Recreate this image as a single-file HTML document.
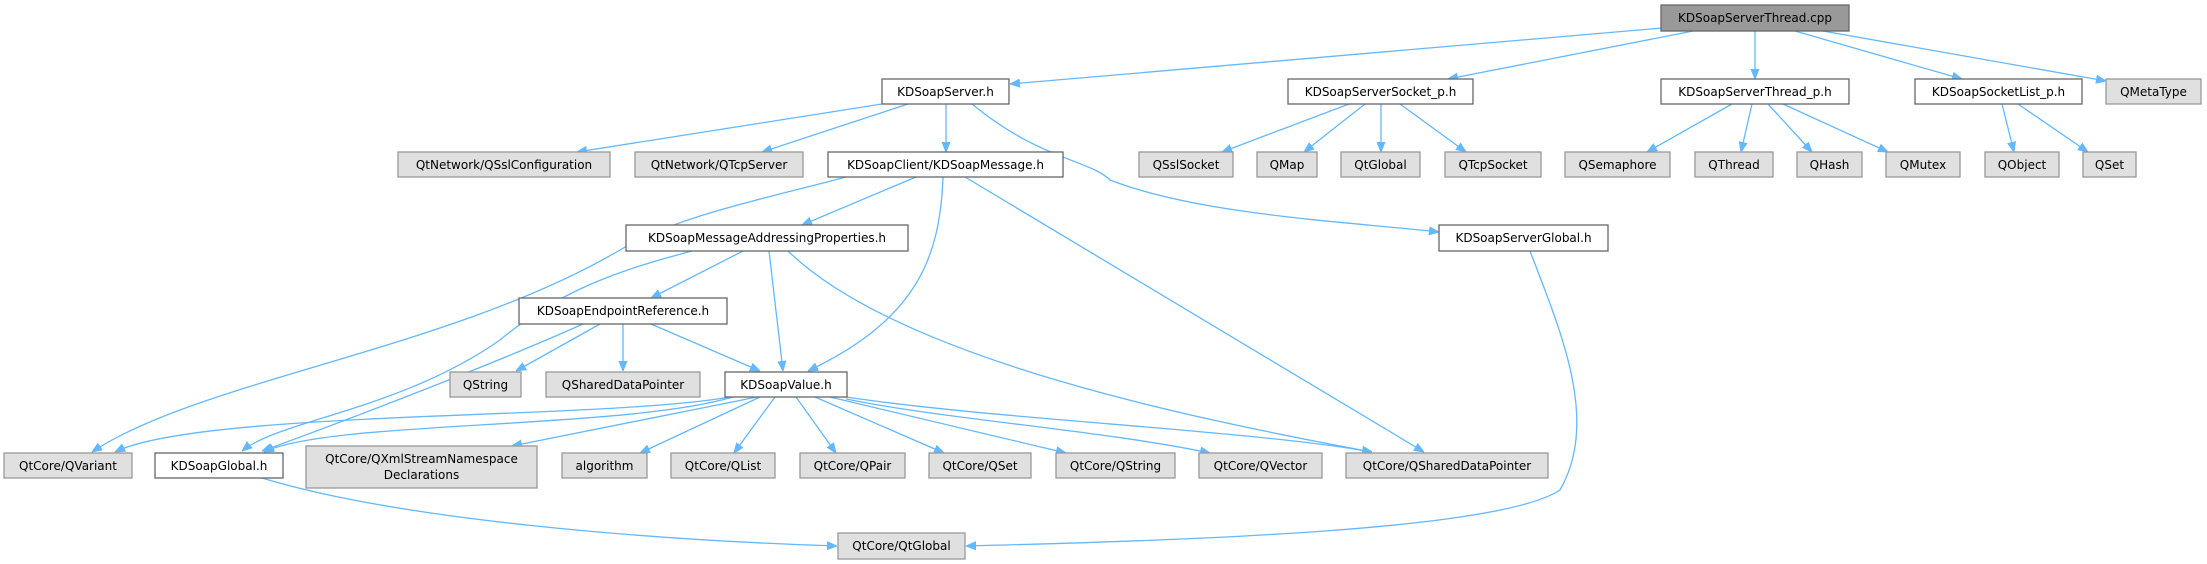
<!DOCTYPE html>
<html><head><meta charset="utf-8"><style>
html,body{margin:0;padding:0;background:#fff;}
svg{display:block;}
text{font-family:"DejaVu Sans","Liberation Sans",sans-serif;font-size:12px;fill:#000;}
.e{fill:none;stroke:#63b8ff;stroke-width:1.3;}
.w{fill:#fff;stroke:#666;stroke-width:1.3;}
.g{fill:#e0e0e0;stroke:#999;stroke-width:1.3;}
.r{fill:#999;stroke:#666;stroke-width:1.3;}
</style></head><body>
<svg width="2207" height="564" viewBox="0 0 2207 564" xmlns="http://www.w3.org/2000/svg">
<defs><marker id="a" viewBox="0 0 10 10" refX="10" refY="5" markerWidth="10" markerHeight="10" markerUnits="userSpaceOnUse" orient="auto"><path d="M0,1 L10,5 L0,9 z" fill="#63b8ff" stroke="#63b8ff"/></marker></defs>
<g marker-end="url(#a)">
<!-- root -->
<path class="e" d="M1662,28 L1010,84"/>
<path class="e" d="M1693,31 L1448,79"/>
<path class="e" d="M1755,31 L1755,79"/>
<path class="e" d="M1795,31 L1962,79"/>
<path class="e" d="M1823,31 L2106,81"/>
<!-- KDSoapServer.h -->
<path class="e" d="M882,104 L577,152"/>
<path class="e" d="M908,104 L762,152"/>
<path class="e" d="M946,104 L946,152"/>
<path class="e" d="M972,104 C1040,160 1090,160 1110,180 C1200,215 1350,222 1439,232"/>
<!-- ServerSocket_p -->
<path class="e" d="M1349,104 L1222,152"/>
<path class="e" d="M1365,104 L1304,152"/>
<path class="e" d="M1381,104 L1381,152"/>
<path class="e" d="M1400,104 L1466,152"/>
<!-- Thread_p -->
<path class="e" d="M1732,104 L1647,152"/>
<path class="e" d="M1752,104 L1741,152"/>
<path class="e" d="M1768,104 L1812,152"/>
<path class="e" d="M1783,104 L1888,152"/>
<!-- SocketList_p -->
<path class="e" d="M2002,104 L2014,152"/>
<path class="e" d="M2018,104 L2088,152"/>
<!-- KDSoapMessage.h -->
<path class="e" d="M846,177 C760,200 680,215 620,250 C450,350 200,380 92,452"/>
<path class="e" d="M916,177 L802,225"/>
<path class="e" d="M943,177 C940,260 915,320 808,371"/>
<path class="e" d="M965,177 L1424,452"/>
<!-- MessageAddressingProperties -->
<path class="e" d="M692,251 C620,270 560,290 500,340 C400,410 280,420 242,451"/>
<path class="e" d="M743,251 L651,298"/>
<path class="e" d="M769,251 L783,371"/>
<path class="e" d="M788,251 C900,360 1200,420 1372,452"/>
<!-- EndpointReference -->
<path class="e" d="M583,324 C480,370 320,430 262,451"/>
<path class="e" d="M600,324 L516,371"/>
<path class="e" d="M623,324 L623,371"/>
<path class="e" d="M651,324 L760,371"/>
<!-- KDSoapValue -->
<path class="e" d="M730,397 C600,420 200,410 115,452"/>
<path class="e" d="M733,397 C620,430 330,420 264,452"/>
<path class="e" d="M757,397 L512,446"/>
<path class="e" d="M760,397 L640,453"/>
<path class="e" d="M775,397 L734,453"/>
<path class="e" d="M796,397 L836,453"/>
<path class="e" d="M815,397 L944,453"/>
<path class="e" d="M830,397 L1066,453"/>
<path class="e" d="M846,399 C950,420 1100,430 1210,453"/>
<path class="e" d="M846,397 C1000,420 1250,430 1372,452"/>
<!-- globals -->
<path class="e" d="M262,478 C400,520 650,540 837,546"/>
<path class="e" d="M1530,251 C1560,330 1600,420 1560,490 C1500,530 1200,540 966,546"/>
</g>
<!-- nodes -->
<rect class="r" x="1661" y="5" width="188" height="26"/><text x="1755" y="22" text-anchor="middle">KDSoapServerThread.cpp</text>
<rect class="w" x="882" y="79" width="127" height="25"/><text x="945.5" y="96" text-anchor="middle">KDSoapServer.h</text>
<rect class="w" x="1288" y="79" width="185" height="25"/><text x="1380.5" y="96" text-anchor="middle">KDSoapServerSocket_p.h</text>
<rect class="w" x="1661" y="79" width="188" height="25"/><text x="1755" y="96" text-anchor="middle">KDSoapServerThread_p.h</text>
<rect class="w" x="1915" y="79" width="167" height="25"/><text x="1998.5" y="96" text-anchor="middle">KDSoapSocketList_p.h</text>
<rect class="g" x="2106" y="79" width="95" height="25"/><text x="2153.5" y="96" text-anchor="middle">QMetaType</text>

<rect class="g" x="398" y="152" width="212" height="25"/><text x="504" y="169" text-anchor="middle">QtNetwork/QSslConfiguration</text>
<rect class="g" x="635" y="152" width="168" height="25"/><text x="719" y="169" text-anchor="middle">QtNetwork/QTcpServer</text>
<rect class="w" x="828" y="152" width="235" height="25"/><text x="945.5" y="169" text-anchor="middle">KDSoapClient/KDSoapMessage.h</text>
<rect class="g" x="1139" y="152" width="94" height="25"/><text x="1186" y="169" text-anchor="middle">QSslSocket</text>
<rect class="g" x="1257" y="152" width="60" height="25"/><text x="1287" y="169" text-anchor="middle">QMap</text>
<rect class="g" x="1341" y="152" width="79" height="25"/><text x="1380.5" y="169" text-anchor="middle">QtGlobal</text>
<rect class="g" x="1445" y="152" width="96" height="25"/><text x="1493" y="169" text-anchor="middle">QTcpSocket</text>
<rect class="g" x="1565" y="152" width="105" height="25"/><text x="1617.5" y="169" text-anchor="middle">QSemaphore</text>
<rect class="g" x="1695" y="152" width="78" height="25"/><text x="1734" y="169" text-anchor="middle">QThread</text>
<rect class="g" x="1797" y="152" width="65" height="25"/><text x="1829.5" y="169" text-anchor="middle">QHash</text>
<rect class="g" x="1886" y="152" width="74" height="25"/><text x="1923" y="169" text-anchor="middle">QMutex</text>
<rect class="g" x="1985" y="152" width="74" height="25"/><text x="2022" y="169" text-anchor="middle">QObject</text>
<rect class="g" x="2083" y="152" width="53" height="25"/><text x="2109.5" y="169" text-anchor="middle">QSet</text>

<rect class="w" x="626" y="225" width="282" height="26"/><text x="767" y="242" text-anchor="middle">KDSoapMessageAddressingProperties.h</text>
<rect class="w" x="1439" y="225" width="169" height="26"/><text x="1523.5" y="242" text-anchor="middle">KDSoapServerGlobal.h</text>

<rect class="w" x="519" y="298" width="208" height="26"/><text x="623" y="315" text-anchor="middle">KDSoapEndpointReference.h</text>

<rect class="g" x="450" y="372" width="71" height="25"/><text x="485.5" y="389" text-anchor="middle">QString</text>
<rect class="g" x="546" y="372" width="154" height="25"/><text x="623" y="389" text-anchor="middle">QSharedDataPointer</text>
<rect class="w" x="725" y="372" width="122" height="25"/><text x="786" y="389" text-anchor="middle">KDSoapValue.h</text>

<rect class="g" x="4" y="453" width="128" height="25"/><text x="68" y="470" text-anchor="middle">QtCore/QVariant</text>
<rect class="w" x="155" y="453" width="128" height="25"/><text x="219" y="470" text-anchor="middle">KDSoapGlobal.h</text>
<rect class="g" x="306" y="446" width="231" height="42"/><text x="421.5" y="463" text-anchor="middle">QtCore/QXmlStreamNamespace</text><text x="421.5" y="479" text-anchor="middle">Declarations</text>
<rect class="g" x="562" y="453" width="85" height="25"/><text x="604.5" y="470" text-anchor="middle">algorithm</text>
<rect class="g" x="671" y="453" width="104" height="25"/><text x="723" y="470" text-anchor="middle">QtCore/QList</text>
<rect class="g" x="800" y="453" width="105" height="25"/><text x="852.5" y="470" text-anchor="middle">QtCore/QPair</text>
<rect class="g" x="929" y="453" width="102" height="25"/><text x="980" y="470" text-anchor="middle">QtCore/QSet</text>
<rect class="g" x="1056" y="453" width="119" height="25"/><text x="1115.5" y="470" text-anchor="middle">QtCore/QString</text>
<rect class="g" x="1199" y="453" width="123" height="25"/><text x="1260.5" y="470" text-anchor="middle">QtCore/QVector</text>
<rect class="g" x="1346" y="453" width="202" height="25"/><text x="1447" y="470" text-anchor="middle">QtCore/QSharedDataPointer</text>

<rect class="g" x="838" y="533" width="127" height="26"/><text x="901.5" y="550" text-anchor="middle">QtCore/QtGlobal</text>
</svg>
</body></html>
